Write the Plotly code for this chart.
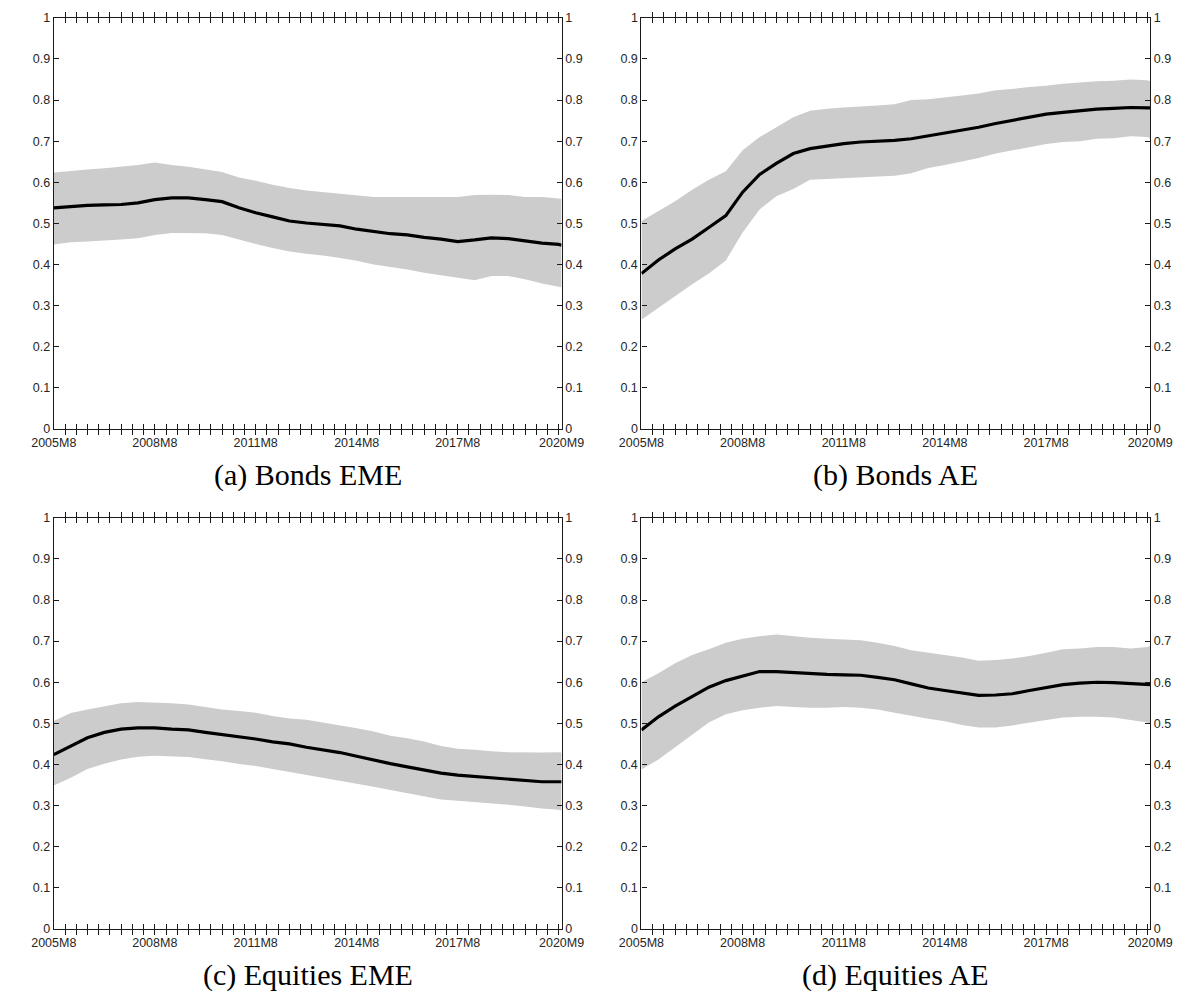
import pandas as pd
import plotly.graph_objects as go

# Semiannual observation dates, 2005M8 .. 2020M8, plus the final 2020M9 point
dates = list(pd.date_range("2005-08-01", "2020-08-01", freq="6MS")) + [pd.Timestamp("2020-09-01")]

# x ticks every four months; only the yearly anchors carry a label
label_dates = ["2005-08-01", "2008-08-01", "2011-08-01", "2014-08-01", "2017-08-01", "2020-09-01"]
tick_labels = ["2005M8", "2008M8", "2011M8", "2014M8", "2017M8", "2020M9"]
tick_dates = [d.strftime("%Y-%m-%d") for d in pd.date_range("2005-08-01", "2020-08-01", freq="4MS")]
tick_dates.append("2020-09-01")
label_map = dict(zip(label_dates, tick_labels))
tick_text = [label_map.get(d, "") for d in tick_dates]

y_ticks = [0, 0.1, 0.2, 0.3, 0.4, 0.5, 0.6, 0.7, 0.8, 0.9, 1]
y_tick_labels = ["0", "0.1", "0.2", "0.3", "0.4", "0.5", "0.6", "0.7", "0.8", "0.9", "1"]

# (a) Bonds EME
bonds_eme_median = [0.538, 0.542, 0.544, 0.545, 0.546, 0.550, 0.558, 0.562, 0.562, 0.558,
                    0.553, 0.538, 0.526, 0.516, 0.506, 0.501, 0.497, 0.494, 0.486, 0.480,
                    0.475, 0.472, 0.466, 0.462, 0.456, 0.460, 0.465, 0.463, 0.458, 0.452,
                    0.449, 0.447]
bonds_eme_upper = [0.624, 0.628, 0.631, 0.634, 0.638, 0.642, 0.648, 0.642, 0.638, 0.632,
                   0.625, 0.612, 0.604, 0.594, 0.586, 0.580, 0.576, 0.572, 0.568, 0.564,
                   0.564, 0.564, 0.564, 0.564, 0.564, 0.569, 0.570, 0.569, 0.564, 0.564,
                   0.562, 0.560]
bonds_eme_lower = [0.449, 0.454, 0.456, 0.458, 0.461, 0.464, 0.472, 0.477, 0.476, 0.476,
                   0.472, 0.460, 0.450, 0.440, 0.432, 0.426, 0.422, 0.416, 0.409, 0.400,
                   0.394, 0.388, 0.380, 0.374, 0.367, 0.362, 0.372, 0.372, 0.364, 0.354,
                   0.346, 0.345]

# (b) Bonds AE
bonds_ae_median = [0.378, 0.411, 0.438, 0.462, 0.490, 0.519, 0.576, 0.619, 0.646, 0.670,
                   0.682, 0.688, 0.694, 0.698, 0.700, 0.702, 0.706, 0.713, 0.720, 0.726,
                   0.734, 0.743, 0.751, 0.758, 0.766, 0.770, 0.774, 0.778, 0.780, 0.782,
                   0.781, 0.781]
bonds_ae_upper = [0.506, 0.530, 0.554, 0.582, 0.606, 0.627, 0.678, 0.710, 0.734, 0.758,
                  0.774, 0.779, 0.782, 0.784, 0.787, 0.790, 0.800, 0.802, 0.806, 0.811,
                  0.816, 0.824, 0.827, 0.832, 0.835, 0.840, 0.843, 0.846, 0.847, 0.850,
                  0.848, 0.846]
bonds_ae_lower = [0.266, 0.295, 0.323, 0.352, 0.378, 0.410, 0.478, 0.534, 0.566, 0.584,
                  0.606, 0.608, 0.611, 0.613, 0.614, 0.616, 0.622, 0.635, 0.642, 0.650,
                  0.659, 0.670, 0.678, 0.686, 0.693, 0.698, 0.700, 0.706, 0.707, 0.712,
                  0.710, 0.706]

# (c) Equities EME
equities_eme_median = [0.424, 0.445, 0.465, 0.478, 0.486, 0.489, 0.489, 0.486, 0.484, 0.478,
                       0.473, 0.468, 0.462, 0.455, 0.450, 0.442, 0.436, 0.429, 0.420, 0.410,
                       0.402, 0.394, 0.386, 0.379, 0.374, 0.371, 0.368, 0.365, 0.362, 0.358,
                       0.358, 0.358]
equities_eme_upper = [0.506, 0.525, 0.534, 0.541, 0.549, 0.552, 0.551, 0.549, 0.546, 0.540,
                      0.534, 0.530, 0.526, 0.518, 0.512, 0.509, 0.502, 0.496, 0.488, 0.480,
                      0.470, 0.464, 0.456, 0.445, 0.438, 0.436, 0.432, 0.430, 0.429, 0.429,
                      0.430, 0.429]
equities_eme_lower = [0.349, 0.368, 0.389, 0.402, 0.412, 0.419, 0.421, 0.420, 0.418, 0.413,
                      0.408, 0.401, 0.396, 0.389, 0.382, 0.374, 0.368, 0.360, 0.354, 0.346,
                      0.338, 0.330, 0.322, 0.315, 0.312, 0.309, 0.306, 0.302, 0.298, 0.293,
                      0.290, 0.288]

# (d) Equities AE
equities_ae_median = [0.484, 0.516, 0.542, 0.565, 0.588, 0.604, 0.615, 0.626, 0.626, 0.623,
                      0.621, 0.619, 0.618, 0.617, 0.612, 0.606, 0.596, 0.586, 0.580, 0.574,
                      0.568, 0.569, 0.572, 0.580, 0.586, 0.594, 0.598, 0.600, 0.599, 0.597,
                      0.594, 0.594]
equities_ae_upper = [0.600, 0.622, 0.646, 0.666, 0.680, 0.696, 0.706, 0.712, 0.716, 0.712,
                     0.708, 0.706, 0.704, 0.702, 0.696, 0.688, 0.678, 0.672, 0.666, 0.660,
                     0.652, 0.654, 0.658, 0.664, 0.672, 0.680, 0.682, 0.686, 0.686, 0.682,
                     0.686, 0.688]
equities_ae_lower = [0.388, 0.412, 0.442, 0.472, 0.502, 0.522, 0.532, 0.538, 0.542, 0.540,
                     0.538, 0.538, 0.540, 0.538, 0.534, 0.526, 0.518, 0.511, 0.505, 0.496,
                     0.490, 0.490, 0.495, 0.502, 0.508, 0.514, 0.516, 0.516, 0.514, 0.508,
                     0.502, 0.498]

panels = [
    ("(a) Bonds EME", bonds_eme_median, bonds_eme_upper, bonds_eme_lower),
    ("(b) Bonds AE", bonds_ae_median, bonds_ae_upper, bonds_ae_lower),
    ("(c) Equities EME", equities_eme_median, equities_eme_upper, equities_eme_lower),
    ("(d) Equities AE", equities_ae_median, equities_ae_upper, equities_ae_lower),
]

W, H = 1204, 1003
# panel boxes in pixels: (left, right, top, bottom)
boxes = [(32, 560, 11, 428), (643, 1172, 11, 428),
         (32, 560, 518, 935), (643, 1172, 518, 935)]
caption_y = [475, 982]

AXIS_COLOR = "#1a1a1a"
BAND_COLOR = "#cccccc"
tick_font = dict(family="Liberation Sans, Arial, sans-serif", size=12.5, color="#262626")

fig = go.Figure()
layout = dict(
    width=W, height=H,
    margin=dict(l=0, r=0, t=0, b=0),
    paper_bgcolor="white", plot_bgcolor="white",
    showlegend=False,
    annotations=[],
)

for i, (title, med, up, lo) in enumerate(panels):
    k = i + 1
    kr = i + 5
    xa = "x" if k == 1 else f"x{k}"
    ya = "y" if k == 1 else f"y{k}"
    yr = f"y{kr}"
    left, right, top, bottom = boxes[i]
    xdom = [left / W, right / W]
    ydom = [1 - bottom / H, 1 - top / H]

    fig.add_trace(go.Scatter(x=dates, y=up, mode="lines", line=dict(width=0, color=BAND_COLOR),
                             xaxis=xa, yaxis=ya, hoverinfo="skip"))
    fig.add_trace(go.Scatter(x=dates, y=lo, mode="lines", line=dict(width=0, color=BAND_COLOR),
                             fill="tonexty", fillcolor=BAND_COLOR,
                             xaxis=xa, yaxis=ya, hoverinfo="skip"))
    fig.add_trace(go.Scatter(x=dates, y=med, mode="lines", line=dict(width=3.2, color="black"),
                             xaxis=xa, yaxis=ya))
    # invisible copy so the right-hand axis is drawn
    fig.add_trace(go.Scatter(x=dates, y=med, mode="lines", line=dict(width=0), opacity=0,
                             xaxis=xa, yaxis=yr, hoverinfo="skip"))

    layout[f"xaxis{k}"] = dict(
        domain=xdom, anchor=ya, type="date",
        range=["2005-08-01", "2020-09-01"],
        tickmode="array", tickvals=tick_dates, ticktext=tick_text,
        ticks="inside", ticklen=5, tickwidth=1, tickcolor=AXIS_COLOR,
        showline=True, linecolor=AXIS_COLOR, linewidth=1.2, mirror="allticks",
        showgrid=False, zeroline=False, tickfont=tick_font, tickangle=0,
        ticklabelstandoff=2,
    )
    layout[f"yaxis{k}"] = dict(
        domain=ydom, anchor=xa, range=[0, 1],
        tickmode="array", tickvals=y_ticks, ticktext=y_tick_labels,
        ticks="inside", ticklen=5, tickwidth=1, tickcolor=AXIS_COLOR,
        showline=True, linecolor=AXIS_COLOR, linewidth=1.2,
        showgrid=False, zeroline=False, tickfont=tick_font,
    )
    layout[f"yaxis{kr}"] = dict(
        overlaying=ya, anchor=xa, side="right", range=[0, 1],
        tickmode="array", tickvals=y_ticks, ticktext=y_tick_labels,
        ticks="inside", ticklen=5, tickwidth=1, tickcolor=AXIS_COLOR,
        showline=True, linecolor=AXIS_COLOR, linewidth=1.2,
        showgrid=False, zeroline=False, tickfont=tick_font,
    )
    layout["annotations"].append(dict(
        text=title, showarrow=False,
        xref="paper", yref="paper",
        x=(left + right) / 2 / W, y=1 - caption_y[i // 2] / H,
        xanchor="center", yanchor="middle",
        font=dict(family="Liberation Serif, Times New Roman, serif", size=30, color="black"),
    ))

fig.update_layout(**layout)
fig.write_html("out.html")
